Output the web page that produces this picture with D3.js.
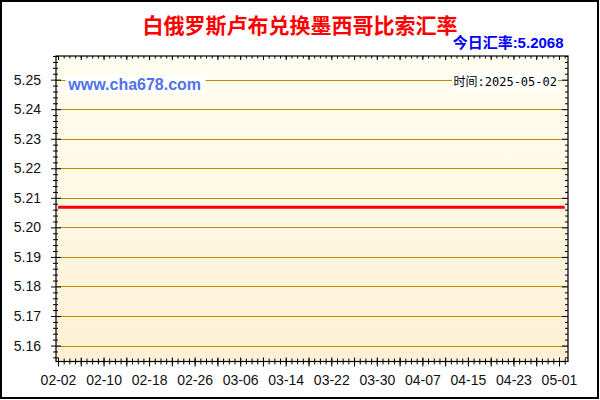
<!DOCTYPE html>
<html>
<head>
<meta charset="utf-8">
<script src="https://cdn.jsdelivr.net/npm/d3@7/dist/d3.min.js"></script>
<style>
html,body{margin:0;padding:0;background:#fff;}
svg{display:block;}
</style>
</head>
<body>
<svg id="chart" width="600" height="400"></svg>
<script>
// ---- data ----
const titleText = "白俄罗斯卢布兑换墨西哥比索汇率";
const rateLabel = "今日汇率:5.2068";
const siteLabel = "www.cha678.com";
const timeLabel = "时间:2025-05-02";
const startDate = "2025-02-02";
const endDate = "2025-05-02";
// daily rates from 02-02 through 05-02 (90 days)
const values = [
  5.2068,5.2068,5.2068,5.2068,5.2068,5.2068,5.2068,5.2068,5.2068,5.2068,
  5.2068,5.2068,5.2068,5.2068,5.2068,5.2068,5.2068,5.2068,5.2068,5.2068,
  5.2068,5.2068,5.2068,5.2068,5.2068,5.2068,5.2068,5.2068,5.2068,5.2068,
  5.2068,5.2068,5.2068,5.2068,5.2068,5.2068,5.2068,5.2068,5.2068,5.2068,
  5.2068,5.2068,5.2068,5.2068,5.2068,5.2068,5.2068,5.2068,5.2068,5.2068,
  5.2068,5.2068,5.2068,5.2068,5.2068,5.2068,5.2068,5.2068,5.2068,5.2068,
  5.2068,5.2068,5.2068,5.2068,5.2068,5.2068,5.2068,5.2068,5.2068,5.2068,
  5.2068,5.2068,5.2068,5.2068,5.2068,5.2068,5.2068,5.2068,5.2068,5.2068,
  5.2068,5.2068,5.2068,5.2068,5.2068,5.2068,5.2068,5.2068,5.2068,5.2068
];
const xTickLabels = ["02-02","02-10","02-18","02-26","03-06","03-14","03-22","03-30","04-07","04-15","04-23","05-01"];
const yTickLabels = [5.16,5.17,5.18,5.19,5.20,5.21,5.22,5.23,5.24,5.25];
const yDomain = [5.1546, 5.258];

// ---- setup ----
const parse = d3.timeParse("%Y-%m-%d");
const d0 = parse(startDate), d1 = parse(endDate);
const dates = d3.timeDay.range(d0, d3.timeDay.offset(d1, 1));
const data = dates.map((d, i) => ({date: d, value: values[i]}));

const P = {l: 56, t: 56, r: 568, b: 361.5};
const svg = d3.select("#chart");

const x = d3.scaleTime().domain([d0, d1]).range([58, 564.7]);
const y = d3.scaleLinear().domain(yDomain).range([P.b, P.t]);

const defs = svg.append("defs");
const grad = defs.append("linearGradient").attr("id", "bg").attr("x1", 0).attr("y1", 0).attr("x2", 0).attr("y2", 1);
grad.append("stop").attr("offset", "0%").attr("stop-color", "#fffef2");
grad.append("stop").attr("offset", "100%").attr("stop-color", "#fdf0d4");

svg.append("rect").attr("x", 0).attr("y", 0).attr("width", 600).attr("height", 400).attr("fill", "#fff");

// plot background
svg.append("rect").attr("x", P.l).attr("y", P.t).attr("width", P.r - P.l).attr("height", P.b - P.t).attr("fill", "url(#bg)");

// grid lines
svg.append("g").selectAll("line").data(yTickLabels).join("line")
  .attr("x1", P.l).attr("x2", P.r)
  .attr("y1", d => Math.round(y(d)) + 0.5).attr("y2", d => Math.round(y(d)) + 0.5)
  .attr("stroke", "#bf8a00").attr("stroke-width", 1);

// data line
const line = d3.line().x(d => x(d.date)).y(d => y(d.value));
svg.append("path").datum(data).attr("d", line).attr("fill", "none").attr("stroke", "#ff0000").attr("stroke-width", 3);

// frame
svg.append("rect").attr("x", P.l).attr("y", P.t).attr("width", P.r - P.l).attr("height", P.b - P.t)
  .attr("fill", "none").attr("stroke", "#000").attr("stroke-width", 1.2);

const fontTick = "'Liberation Sans', Arial, sans-serif";

// ---- Y axes ----
const yMinor = d3.range(5.156, 5.2581, 0.002).map(v => +v.toFixed(3)).filter(v => !yTickLabels.some(m => Math.abs(m - v) < 1e-6));
const gyMin = svg.append("g").attr("transform", `translate(${P.l},0)`)
  .call(d3.axisLeft(y).tickValues(yMinor).tickSize(3).tickFormat(""));
gyMin.select(".domain").remove();
gyMin.selectAll("line").attr("x1", 2).attr("stroke", "#000");

const gy = svg.append("g").attr("transform", `translate(${P.l},0)`)
  .call(d3.axisLeft(y).tickValues(yTickLabels).tickSize(5).tickPadding(10).tickFormat(d3.format(".2f")));
gy.select(".domain").remove();
gy.selectAll("line").attr("x1", 5).attr("stroke", "#000");
gy.selectAll("text").attr("font-family", fontTick).attr("font-size", 14).attr("fill", "#111");

// right axis ticks (inward)
const gyrMin = svg.append("g").attr("transform", `translate(${P.r},0)`)
  .call(d3.axisLeft(y).tickValues(yMinor).tickSize(3).tickFormat(""));
gyrMin.select(".domain").remove();
gyrMin.selectAll("line").attr("stroke", "#000");
const gyr = svg.append("g").attr("transform", `translate(${P.r},0)`)
  .call(d3.axisLeft(y).tickValues(yTickLabels).tickSize(6).tickFormat(""));
gyr.select(".domain").remove();
gyr.selectAll("line").attr("stroke", "#000");

// ---- X axes ----
const allDays = d3.timeDay.range(d0, d3.timeDay.offset(d1, 1));
const majorDays = allDays.filter((d, i) => i % 4 === 0);
const labelDays = xTickLabels.map(s => parse("2025-" + s));

const gxMin = svg.append("g").attr("transform", `translate(0,${P.b})`)
  .call(d3.axisBottom(x).tickValues(allDays).tickSize(3).tickFormat(""));
gxMin.select(".domain").remove();
gxMin.selectAll("line").attr("y1", -3).attr("stroke", "#000");

const gxMaj = svg.append("g").attr("transform", `translate(0,${P.b})`)
  .call(d3.axisBottom(x).tickValues(majorDays).tickSize(5).tickFormat(""));
gxMaj.select(".domain").remove();
gxMaj.selectAll("line").attr("y1", -4).attr("stroke", "#000");

const gx = svg.append("g").attr("transform", `translate(0,${P.b})`)
  .call(d3.axisBottom(x).tickValues(labelDays).tickSize(0).tickPadding(14).tickFormat(d3.timeFormat("%m-%d")));
gx.select(".domain").remove();
gx.selectAll("text").attr("font-family", fontTick).attr("font-size", 14).attr("fill", "#111");

// top axis ticks (inward)
const gxtMin = svg.append("g").attr("transform", `translate(0,${P.t})`)
  .call(d3.axisBottom(x).tickValues(allDays).tickSize(2.5).tickFormat(""));
gxtMin.select(".domain").remove();
gxtMin.selectAll("line").attr("stroke", "#000");
const gxtMaj = svg.append("g").attr("transform", `translate(0,${P.t})`)
  .call(d3.axisBottom(x).tickValues(majorDays).tickSize(4).tickFormat(""));
gxtMaj.select(".domain").remove();
gxtMaj.selectAll("line").attr("stroke", "#000");

// ---- texts ----
svg.append("text").attr("x", 300).attr("y", 32.5).attr("text-anchor", "middle")
  .attr("font-family", "'Noto Sans CJK SC', sans-serif").attr("font-weight", "bold")
  .attr("font-size", 21).attr("fill", "#ff0000").text(titleText);

svg.append("text").attr("x", 563.5).attr("y", 48).attr("text-anchor", "end")
  .attr("font-family", "'Liberation Sans', Arial, 'Noto Sans CJK SC', sans-serif").attr("font-weight", "bold")
  .attr("font-size", 15).attr("fill", "#0000ff").text(rateLabel);

// site label with white background
svg.append("rect").attr("x", 65.5).attr("y", 76).attr("width", 140).attr("height", 17).attr("fill", "#fff");
svg.append("text").attr("x", 68.3).attr("y", 90).attr("font-family", "'Liberation Sans', Arial, sans-serif")
  .attr("font-weight", "bold").attr("font-size", 16).attr("fill", "#4f73ea").text(siteLabel);

// time label with white background
svg.append("rect").attr("x", 452).attr("y", 73).attr("width", 106).attr("height", 16).attr("fill", "#fff");
svg.append("text").attr("x", 557).attr("y", 86).attr("text-anchor", "end")
  .attr("font-family", "'DejaVu Sans Mono', 'Noto Sans CJK SC', monospace")
  .attr("font-size", 12).attr("fill", "#000").text(timeLabel);

// outer border
svg.append("rect").attr("x", 1).attr("y", 1).attr("width", 597).attr("height", 397)
  .attr("fill", "none").attr("stroke", "#000").attr("stroke-width", 2);
</script>
</body>
</html>
